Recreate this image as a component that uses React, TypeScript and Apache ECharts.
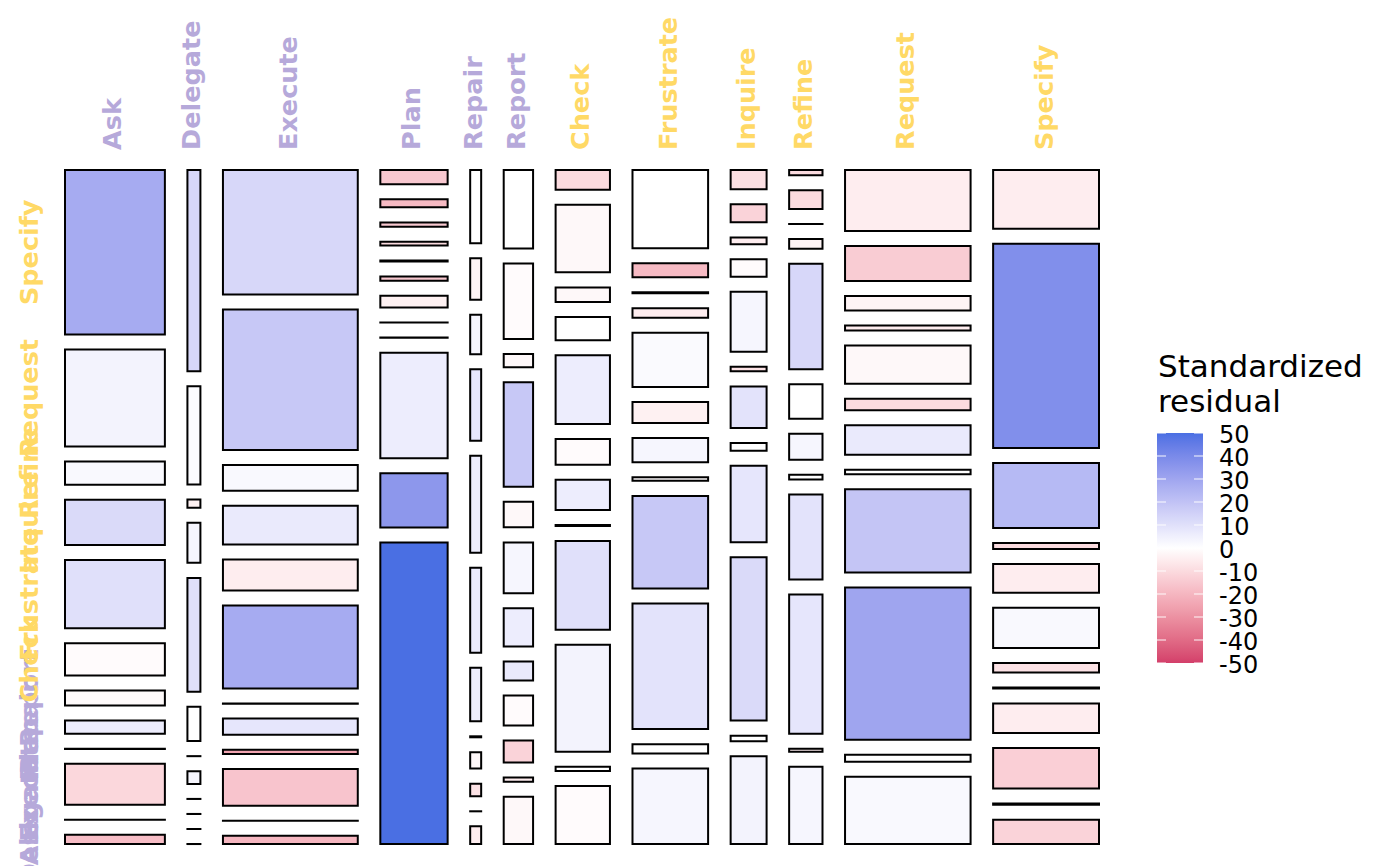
import React, { useEffect, useRef } from "react";
import * as echarts from "echarts";

// Dialogue acts: columns (from, left to right) and rows (to, bottom to top)
const acts = ["Ask", "Delegate", "Execute", "Plan", "Repair", "Report", "Check", "Frustrate", "Inquire", "Refine", "Request", "Specify"];
const userActs = ["Check", "Frustrate", "Inquire", "Refine", "Request", "Specify"];

// relative size of each "from" act (column widths)
const fromShare = [100, 13, 135, 67.4, 11, 29.4, 54.4, 75.7, 36, 33.4, 125.7, 106];

// conditional shares of each "to" act within a column, in acts order
const askTo = [9.3, 0, 40.7, 0, 13.3, 15, 32, 68.3, 45, 23.3, 96.7, 164.3];
const delegateTo = [0, 0, 0, 0, 12.7, 0, 34.3, 113.7, 40, 8.3, 98, 201];
const executeTo = [8.3, 0, 36.6, 4.3, 16, 0, 83, 31, 38.6, 25.7, 140.4, 124.3];
const planTo = [301, 54.3, 105.4, 0, 0, 11.7, 4.3, 1, 3.6, 4.4, 8, 14.3];
const repairTo = [17.7, 0, 12.6, 16.3, 1, 53.6, 85, 97, 71.4, 39.6, 41.4, 73.3];
const reportTo = [47.3, 4.3, 22, 30, 19, 38.3, 51, 25.6, 104.7, 13.3, 75.6, 78.7];
const checkTo = [58, 4.3, 107, 88.7, 1, 30.3, 25.7, 68.7, 23.3, 14.6, 67.7, 19.7];
const frustrateTo = [76, 9.4, 126.3, 93.3, 3.6, 24.3, 21.3, 54.4, 9.7, 1, 14, 78.7];
const inquireTo = [88.3, 5.7, 164.6, 77, 7.6, 42, 4.7, 60.4, 17.4, 7, 18.3, 19.3];
const refineTo = [77.3, 3, 139.4, 85.3, 4.6, 26, 34.6, 105.7, 9.6, 0, 18.7, 5.3];
const requestTo = [68, 7, 154, 84.3, 4.4, 30, 11.4, 38.7, 5, 14.7, 35.4, 61.7];
const specifyTo = [24.3, 1.3, 40.7, 29.6, 1, 9.6, 40.3, 29, 6, 65.4, 205.4, 59];

// standardized residuals, same layout
const askResid = [-18, 0, -11, -5, 6, -1.5, -1, 10, 12, 2, 4, 28];
const delegateResid = [0, 0, 0, 0, 3, 0, 0, 10, 3, -4, 1, 13];
const executeResid = [-20, -3, -16, -25, 8, -3, 28, -5, 7, 2, 18, 13];
const planResid = [50, 35, 6, -5, -5, -4, -15, -10, -10, -15, -19, -15];
const repairResid = [-5, 0, -8, -2, 0, 6, 7, 6, 8, 3, -3, 0];
const reportResid = [-2, -5, -12, -1, 7, 6, 3, -2, 18, -2, -1, 0];
const checkResid = [-1, 0, 4, 10, 0, 6, -1, 6, 0, -2, -2, -10];
const frustrateResid = [3, 0, 9, 18, -1, 3, -4, 1.5, -5, 0, -19, 0];
const inquireResid = [4, 0, 12, 8, 0, 9, -8, 3, -1, -5, -12, -9];
const refineResid = [3, -5, 8, 9, 0, 3, 0, 13, -3, 0, -10, -10];
const requestResid = [2, 0, 30, 19, 0, 7, -10, -2, -5, -3, -14, -5];
const specifyResid = [-12, 0, -13, -5, 0, -8, 2, -5, -10, 23, 38, -5];

const legendTicks = [50, 40, 30, 20, 10, 0, -10, -20, -30, -40, -50];

const colShares = [askTo, delegateTo, executeTo, planTo, repairTo, reportTo, checkTo, frustrateTo, inquireTo, refineTo, requestTo, specifyTo];
const colResid = [askResid, delegateResid, executeResid, planResid, repairResid, reportResid, checkResid, frustrateResid, inquireResid, refineResid, requestResid, specifyResid];

const LOW = "#D33F6A";
const MID = "#FFFFFF";
const HIGH = "#4A6FE3";
const PURPLE = "#B6A9DA";
const YELLOW = "#FFD966";

// ---- Lab interpolation (as ggplot's gradient2) ----
function srgbToLin(c: number) {
  c /= 255;
  return c <= 0.04045 ? c / 12.92 : Math.pow((c + 0.055) / 1.055, 2.4);
}
function linToSrgb(c: number) {
  const v = c <= 0.0031308 ? 12.92 * c : 1.055 * Math.pow(c, 1 / 2.4) - 0.055;
  return Math.max(0, Math.min(255, Math.round(v * 255)));
}
function hexToLab(hex: string) {
  const r = srgbToLin(parseInt(hex.slice(1, 3), 16));
  const g = srgbToLin(parseInt(hex.slice(3, 5), 16));
  const b = srgbToLin(parseInt(hex.slice(5, 7), 16));
  const X = (0.4124 * r + 0.3576 * g + 0.1805 * b) / 0.95047;
  const Y = 0.2126 * r + 0.7152 * g + 0.0722 * b;
  const Z = (0.0193 * r + 0.1192 * g + 0.9505 * b) / 1.08883;
  const f = (t: number) => (t > 0.008856 ? Math.cbrt(t) : 7.787 * t + 16 / 116);
  const fx = f(X), fy = f(Y), fz = f(Z);
  return [116 * fy - 16, 500 * (fx - fy), 200 * (fy - fz)];
}
function labToHex(L: number, a: number, b: number) {
  const fy = (L + 16) / 116;
  const fx = fy + a / 500;
  const fz = fy - b / 200;
  const fi = (t: number) => (t * t * t > 0.008856 ? t * t * t : (t - 16 / 116) / 7.787);
  const X = fi(fx) * 0.95047, Y = fi(fy), Z = fi(fz) * 1.08883;
  const r = 3.2406 * X - 1.5372 * Y - 0.4986 * Z;
  const g = -0.9689 * X + 1.8758 * Y + 0.0415 * Z;
  const bb = 0.0557 * X - 0.204 * Y + 1.057 * Z;
  const h = (v: number) => linToSrgb(Math.max(0, v)).toString(16).padStart(2, "0");
  return "#" + h(r) + h(g) + h(bb);
}
function mixLab(c1: string, c2: string, t: number) {
  const a = hexToLab(c1), b = hexToLab(c2);
  return labToHex(a[0] + (b[0] - a[0]) * t, a[1] + (b[1] - a[1]) * t, a[2] + (b[2] - a[2]) * t);
}
const colorStops: string[] = [];
for (let v = -50; v <= 50; v += 2.5) {
  colorStops.push(v < 0 ? mixLab(MID, LOW, -v / 50) : mixLab(MID, HIGH, v / 50));
}

const gapX = 0.0218;
const gapY = 0.0223;

function buildCells() {
  const sum = (a: number[]) => a.reduce((s, v) => s + v, 0);
  const totalFrom = sum(fromShare);
  const cells: number[][] = [];
  let x = 0;
  for (let i = 0; i < acts.length; i++) {
    const w = (fromShare[i] / totalFrom) * (1 - (acts.length - 1) * gapX);
    const col = colShares[i];
    const colSum = sum(col);
    let y = 0;
    for (let j = 0; j < acts.length; j++) {
      const h = (col[j] / colSum) * (1 - (acts.length - 1) * gapY);
      cells.push([x, x + w, y, y + h, colResid[i][j], i, j]);
      y += h + gapY;
    }
    x += w + gapX;
  }
  return cells;
}

export default function App() {
  const ref = useRef<HTMLDivElement>(null);
  useEffect(() => {
    document.body.style.margin = "0";
    if (!ref.current) return;
    const chart = echarts.init(ref.current, undefined, { renderer: "svg" });
    const cells = buildCells();
    const labelFont = { fontFamily: "DejaVu Sans", fontWeight: "bold" as const, fontSize: 25.5 };

    const graphics: any[] = [
      {
        type: "text",
        left: 1158,
        top: 348,
        style: { text: "Standardized\nresidual", fontFamily: "DejaVu Sans", fontSize: 31, lineHeight: 35, fill: "#000" },
      },
      {
        type: "rect",
        shape: { x: 1157, y: 433, width: 46, height: 230 },
        style: {
          fill: new echarts.graphic.LinearGradient(
            0, 0, 0, 1,
            colorStops.slice().reverse().map((c, k, arr) => ({ offset: k / (arr.length - 1), color: c }))
          ),
        },
      },
    ];
    legendTicks.forEach((t, k) => {
      const y = 433 + (k * 230) / (legendTicks.length - 1);
      graphics.push({
        type: "text",
        x: 1219,
        y: y + 1.5,
        style: { text: String(t), fontFamily: "DejaVu Sans", fontSize: 24, fill: "#000", align: "left", verticalAlign: "middle" },
      });
      graphics.push({ type: "line", shape: { x1: 1157, y1: y, x2: 1166, y2: y }, style: { stroke: "rgba(255,255,255,0.8)", lineWidth: 1.2 } });
      graphics.push({ type: "line", shape: { x1: 1194, y1: y, x2: 1203, y2: y }, style: { stroke: "rgba(255,255,255,0.8)", lineWidth: 1.2 } });
    });

    chart.setOption({
      animation: false,
      grid: { left: 65, top: 170, width: 1034, height: 674 },
      xAxis: { type: "value", min: 0, max: 1, show: false },
      yAxis: { type: "value", min: 0, max: 1, show: false },
      visualMap: {
        type: "continuous",
        show: false,
        min: -50,
        max: 50,
        dimension: 4,
        seriesIndex: 0,
        inRange: { color: colorStops },
      },
      graphic: graphics,
      series: [
        {
          type: "custom",
          clip: false,
          data: cells,
          encode: { x: [0, 1], y: [2, 3] },
          renderItem: (params: any, api: any) => {
            const x0 = api.value(0), x1 = api.value(1), y0 = api.value(2), y1 = api.value(3);
            const fi = api.value(5), tj = api.value(6);
            const p0 = api.coord([x0, y1]);
            const p1 = api.coord([x1, y0]);
            const children: any[] = [
              {
                type: "rect",
                shape: { x: p0[0], y: p0[1], width: p1[0] - p0[0], height: Math.max(p1[1] - p0[1], 0.05) },
                style: { fill: api.visual("color"), stroke: "#000", lineWidth: 2 },
              },
            ];
            if (fi === 0) {
              const mid = api.coord([0, (y0 + y1) / 2]);
              const name = acts[tj];
              children.push({
                type: "text",
                x: mid[0] - 36,
                y: mid[1],
                rotation: Math.PI / 2,
                style: { text: name, ...labelFont, fill: userActs.includes(name) ? YELLOW : PURPLE, align: "center", verticalAlign: "middle" },
              });
            }
            if (tj === 0) {
              const top = api.coord([(x0 + x1) / 2, 1]);
              const name = acts[fi];
              children.push({
                type: "text",
                x: top[0] - 2.5,
                y: top[1] - 20,
                rotation: Math.PI / 2,
                style: { text: name, ...labelFont, fill: userActs.includes(name) ? YELLOW : PURPLE, align: "left", verticalAlign: "middle" },
              });
            }
            return { type: "group", children };
          },
        },
      ],
    });
    return () => chart.dispose();
  }, []);
  return <div ref={ref} style={{ width: 1400, height: 866 }} />;
}
